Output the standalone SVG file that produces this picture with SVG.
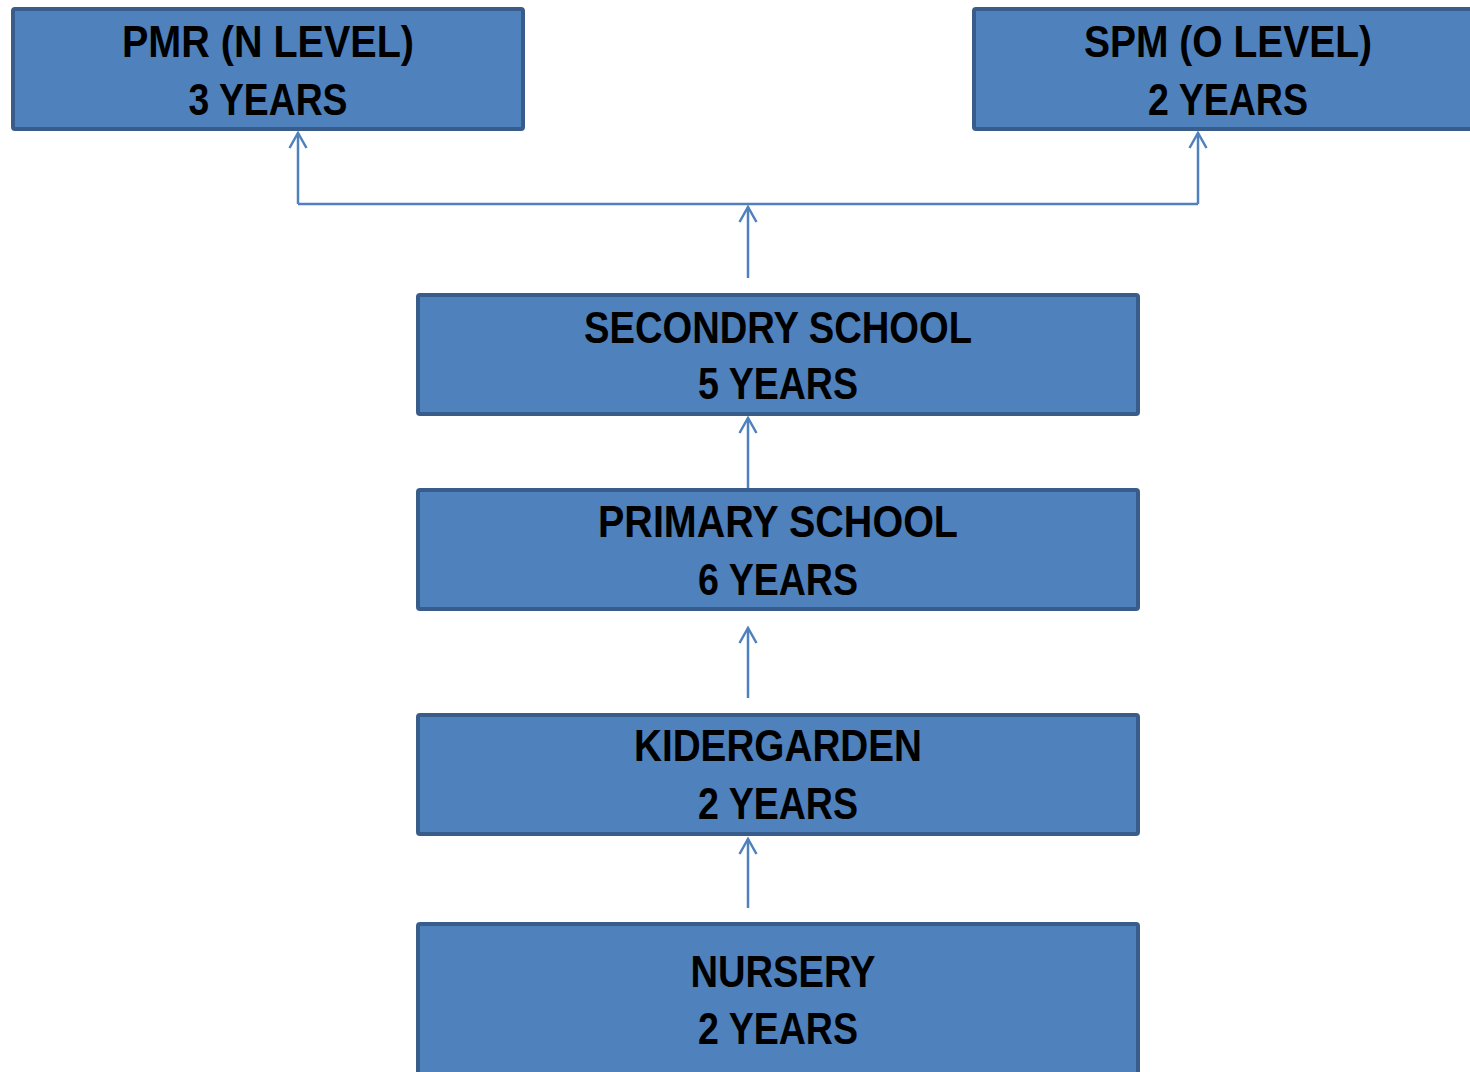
<svg xmlns="http://www.w3.org/2000/svg" width="1470" height="1072" viewBox="0 0 1470 1072">
<defs>
<marker id="arr" markerUnits="userSpaceOnUse" markerWidth="24" markerHeight="24" viewBox="-18 -12 24 24" refX="0" refY="0" orient="auto" overflow="visible">
<path d="M-15,-8.5 L0,0 L-15,8.5" fill="none" stroke="#4f81bd" stroke-width="2.5"/>
</marker>
</defs>
<style>
.box{fill:#4f81bd;stroke:#385d8a;stroke-width:4}
.t{font-family:"Liberation Sans",Arial,sans-serif;font-weight:bold;font-size:44px;fill:#000;text-anchor:middle}
.c{fill:none;stroke:#4f81bd;stroke-width:2.5}
</style>
<rect width="1470" height="1072" fill="#ffffff"/>
<g id="connectors">
<path class="c" d="M748,278 V207" marker-end="url(#arr)"/>
<path class="c" d="M298,204 H1198"/>
<path class="c" d="M298,204 V133" marker-end="url(#arr)"/>
<path class="c" d="M1198,204 V133" marker-end="url(#arr)"/>
<path class="c" d="M748,488 V418" marker-end="url(#arr)"/>
<path class="c" d="M748,698 V628" marker-end="url(#arr)"/>
<path class="c" d="M748,908 V839" marker-end="url(#arr)"/>
</g>
<g id="pmr">
<rect class="box" x="13" y="9" width="510" height="120" rx="2"/>
<text class="t" x="268" y="57" textLength="292" lengthAdjust="spacingAndGlyphs">PMR (N LEVEL)</text>
<text class="t" x="268" y="115" textLength="159" lengthAdjust="spacingAndGlyphs">3 YEARS</text>
</g>
<g id="spm">
<rect class="box" x="974" y="9" width="520" height="120" rx="2"/>
<text class="t" x="1228" y="57" textLength="288" lengthAdjust="spacingAndGlyphs">SPM (O LEVEL)</text>
<text class="t" x="1228" y="115" textLength="160" lengthAdjust="spacingAndGlyphs">2 YEARS</text>
</g>
<g id="secondary">
<rect class="box" x="418" y="295" width="720" height="119" rx="2"/>
<text class="t" x="778" y="343" textLength="388" lengthAdjust="spacingAndGlyphs">SECONDRY SCHOOL</text>
<text class="t" x="778" y="399" textLength="160" lengthAdjust="spacingAndGlyphs">5 YEARS</text>
</g>
<g id="primary">
<rect class="box" x="418" y="490" width="720" height="119" rx="2"/>
<text class="t" x="778" y="537" textLength="360" lengthAdjust="spacingAndGlyphs">PRIMARY SCHOOL</text>
<text class="t" x="778" y="595" textLength="160" lengthAdjust="spacingAndGlyphs">6 YEARS</text>
</g>
<g id="kindergarden">
<rect class="box" x="418" y="715" width="720" height="119" rx="2"/>
<text class="t" x="778" y="761" textLength="288" lengthAdjust="spacingAndGlyphs">KIDERGARDEN</text>
<text class="t" x="778" y="819" textLength="160" lengthAdjust="spacingAndGlyphs">2 YEARS</text>
</g>
<g id="nursery">
<rect class="box" x="418" y="924" width="720" height="160" rx="2"/>
<text class="t" x="783" y="987" textLength="185" lengthAdjust="spacingAndGlyphs">NURSERY</text>
<text class="t" x="778" y="1044" textLength="160" lengthAdjust="spacingAndGlyphs">2 YEARS</text>
</g>
</svg>
